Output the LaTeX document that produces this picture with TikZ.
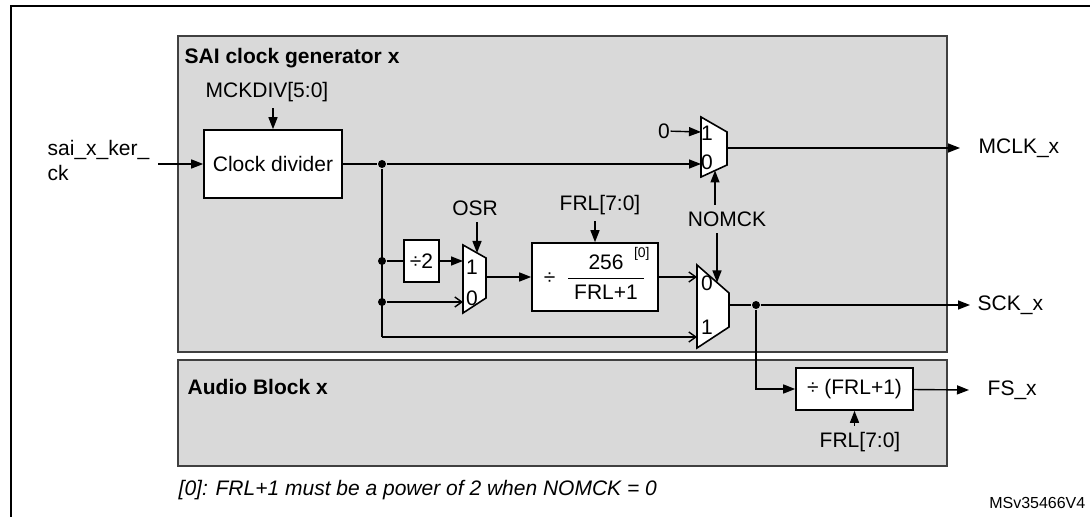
\documentclass[tikz,border=0pt]{standalone}
\usepackage{amsmath}
\usepackage{fontspec}
\setmainfont{Liberation Sans}
\usepackage{xcolor}
\usetikzlibrary{arrows.meta}
\definecolor{blockgray}{RGB}{217,217,217}

\begin{document}
\begin{tikzpicture}[x=0.5pt,y=-0.5pt,->,>={Triangle[length=6pt,width=4.5pt]},line width=0.7pt,
    font=\fontsize{10.5}{12.5}\selectfont,
    grpbox/.style={draw=black!75,fill=blockgray,line width=0.8pt},
    blk/.style={draw,fill=white,line width=0.8pt,inner sep=0pt},
    muxshape/.style={draw,fill=white,line width=0.8pt},
    opn/.style={-{Straight Barb[length=3.5pt,width=5pt]}},
    dot/.style={circle,fill,inner sep=0pt,minimum size=4pt},
    lbl/.style={inner sep=0pt},
    ctl/.style={inner xsep=0pt,inner ysep=3pt},
    outl/.style={anchor=west,inner sep=0pt},]
    \useasboundingbox (0,0) rectangle (1090,517);
    \draw[-,line width=1.2pt] (11,6) rectangle (1110,540);

    \draw[-,grpbox] (178,36) rectangle (947,352);
    \draw[-,grpbox] (178,360) rectangle (947,466);
    \node [lbl,anchor=west,font=\fontsize{10.5}{12.5}\selectfont\bfseries](sait) at (184,58){SAI clock generator x};
    \node [lbl,anchor=west,font=\fontsize{10.5}{12.5}\selectfont\bfseries](audt) at (187,387){Audio Block x};

    \node [lbl,anchor=west,align=left](ker) at (47,160){sai\_x\_ker\_\\ck};
    \coordinate (kin) at (158,164);
    \node [blk,minimum width=69pt,minimum height=34pt](div) at (273,164){Clock divider};
    \node [ctl](mckdiv) at (267,92){MCKDIV[5:0]};

    \node [dot](ja) at (382,164){};
    \node [dot](jc) at (382,261){};
    \node [dot](jd) at (382,302){};
    \coordinate (jbot) at (382,337);

    \node [blk,minimum width=17.5pt,minimum height=21pt](div2) at (421.5,261){÷2};

    \draw[-,muxshape] (463,245) -- (486,258) -- (486,298) -- (463,313) -- cycle;
    \coordinate (osa) at (463,261);
    \coordinate (osb) at (463,302);
    \coordinate (oso) at (486,277);
    \coordinate (oss) at (477,253);
    \node [lbl](osl1) at (472,267){1};
    \node [lbl](osl0) at (472,298){0};
    \node [ctl](osr) at (475,208){OSR};

    \node [blk,minimum width=63pt,minimum height=34pt](frac) at (595,277)
        {÷\enspace$\dfrac{\text{256}}{\hspace{3pt}\text{FRL+1}\hspace{3pt}}$};
    \node [lbl,font=\fontsize{7}{8}\selectfont](fn0) at ([xshift=-8.5pt,yshift=-6pt]frac.north east){[0]};
    \node [ctl](frl) at (600,205){FRL[7:0]};

    \draw[-,muxshape] (701,117) -- (727,132) -- (727,165) -- (701,177) -- cycle;
    \coordinate (m1a) at (701,132);
    \coordinate (m1b) at (701,164);
    \coordinate (m1o) at (727,148);
    \coordinate (m1s) at (715,170.5);
    \node [lbl](m1l1) at (707,133){1};
    \node [lbl](m1l0) at (707,162){0};
    \node [lbl](zero) at (664,131){0};

    \draw[-,muxshape] (697,265) -- (729,293) -- (729,327) -- (697,348) -- cycle;
    \coordinate (m2a) at (697,277);
    \coordinate (m2b) at (697,337);
    \coordinate (m2o) at (729,305);
    \coordinate (m2s) at (717,282.5);
    \node [lbl](m2l0) at (707,283){0};
    \node [lbl](m2l1) at (707,327){1};
    \node [ctl](nomck) at (727,219){NOMCK};

    \node [dot](jb) at (756,305){};
    \node [blk,minimum width=58.5pt,minimum height=21pt](frlb) at (854.5,389){÷ (FRL+1)};
    \node [ctl](frl2) at (860,442){FRL[7:0]};

    \node [outl](mclk) at (978,148){MCLK\_x};
    \node [outl](sck) at (977,305){SCK\_x};
    \node [outl](fs) at (987,390){FS\_x};

    \node [lbl,anchor=west,font=\fontsize{10.5}{12.5}\selectfont\itshape](note) at (178,490){[0]: FRL+1 must be a power of 2 when NOMCK = 0};
    \node [lbl,anchor=east,font=\fontsize{8}{9}\selectfont](ref) at (1086,503){MSv35466V4};

    \path
        (kin) edge (div)
        (mckdiv.south -| div.north) edge (div.north)
        (div) edge[-] (ja)
        (ja) edge (m1b)
        (zero) edge (m1a)
        (m1o) edge ([xshift=-9pt]mclk.west)
        (nomck.north -| m1s) edge (m1s)
        (nomck.south -| m2s) edge (m2s)
        (jc) edge[-] (div2)
        (div2) edge (osa)
        (jd) edge[opn] (osb)
        (osr.south -| oss) edge (oss)
        (oso) edge (frac)
        (frl.south -| frac.north) edge (frac.north)
        (frac) edge[opn] (m2a)
        (jbot) edge[opn] (m2b)
        (m2o) edge[-] (jb)
        (jb) edge ([xshift=-3.5pt]sck.west)
        (frlb) edge ([xshift=-9pt]fs.west)
        (frl2.north -| frlb.south) edge (frlb.south)
    ;
    \draw[-] (ja) -- (jbot);
    \draw (jb) |- (frlb);
\end{tikzpicture}
\end{document}
